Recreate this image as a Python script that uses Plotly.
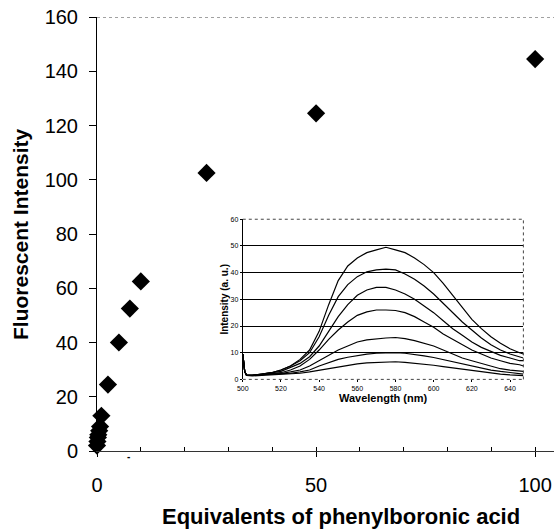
import plotly.graph_objects as go

# main titration data
equivalents = [0, 0.1, 0.2, 0.3, 0.5, 0.7, 1, 2.5, 5, 7.5, 10, 25, 50, 100]
intensity = [2, 3.5, 5, 6, 7.5, 9, 13, 24.5, 40, 52.5, 62.5, 102.5, 124.5, 144.5]

# inset spectra
wavelength = [500, 501, 502, 505, 510, 515, 520, 525, 530, 535, 540, 545, 550, 555, 560, 565,
              570, 575, 580, 585, 590, 595, 600, 605, 610, 615, 620, 625, 630, 635, 640, 645, 647]
spec_a = [9.5, 3, 1.5, 1.5, 2, 2.5, 3.5, 5, 7.5, 11, 18, 28, 37, 42.5, 45.5, 47.5,
          48.5, 49.5, 48.5, 47.5, 45.5, 43, 40, 36, 31.5, 27, 22.5, 19, 16, 13.5, 11.5, 10, 9.5]
spec_b = [9.5, 3, 1.5, 1.5, 2, 2.5, 3.5, 5, 7, 10, 16, 24, 31, 35.5, 38.5, 40.3,
          41, 41.3, 41, 39.5, 37.5, 35, 32, 28.5, 25, 21.5, 18.5, 15.5, 13, 11, 9.5, 8.5, 8]
spec_c = [9.5, 3, 1.5, 1.5, 2, 2.5, 3, 4.5, 6, 8.5, 12.5, 18, 23.5, 28, 31.5, 33.5,
          34.5, 34.5, 33.5, 32, 30, 27.5, 25, 22, 19, 16.5, 14, 12, 10.5, 9, 8, 7, 7]
spec_d = [9.5, 3, 1.5, 1.5, 1.8, 2.2, 2.5, 3.5, 5, 7.5, 11, 15, 18.5, 21.5, 24, 25.3,
          26, 26, 25.8, 25, 23.5, 21.5, 19.5, 17, 15, 13, 11, 9.5, 8, 7, 6, 5.5, 5]
spec_e = [9.5, 3, 1.5, 1.5, 1.8, 2, 2.2, 2.8, 3.5, 5, 7, 9, 11, 12.5, 14, 14.8,
          15.2, 15.5, 15.7, 15.3, 14.5, 13.5, 12.5, 11, 9.5, 8, 7, 6, 5, 4, 3.5, 3, 3]
spec_f = [9.5, 3, 1.5, 1.5, 1.8, 2, 2, 2.3, 2.8, 3.5, 5, 6.3, 7.5, 8.3, 9, 9.5,
          9.8, 10, 10, 9.8, 9.4, 8.8, 8.2, 7.4, 6.5, 5.7, 5, 4.2, 3.5, 3, 2.5, 2, 2]
spec_g = [9.5, 3, 1.5, 1.3, 1.5, 1.7, 1.8, 2, 2.3, 2.8, 3.4, 4, 4.7, 5.3, 5.8, 6.2,
          6.4, 6.5, 6.6, 6.4, 6.1, 5.7, 5.3, 4.8, 4.3, 3.8, 3.3, 2.8, 2.4, 2, 1.7, 1.5, 1.4]
spectra = [spec_a, spec_b, spec_c, spec_d, spec_e, spec_f, spec_g]

font = "Liberation Sans, Arial, sans-serif"

fig = go.Figure()

fig.add_trace(go.Scatter(x=equivalents, y=intensity, mode="markers",
                         marker=dict(symbol="diamond", size=14, color="black"),
                         cliponaxis=False, showlegend=False))

for s in spectra:
    fig.add_trace(go.Scatter(x=wavelength, y=s, mode="lines", xaxis="x2", yaxis="y2",
                             line=dict(color="black", width=1.2), showlegend=False))

fig.update_layout(
    width=554, height=530,
    margin=dict(l=97, r=0, t=17, b=79),
    paper_bgcolor="white", plot_bgcolor="white",
    font=dict(family=font, color="black"),
    xaxis=dict(range=[0, 104.3], tickvals=[0, 50, 100], ticks="outside", ticklen=5,
               tickcolor="black", showgrid=False, zeroline=False, automargin=False,
               showline=True, linecolor="#333", linewidth=1,
               tickfont=dict(size=20), ticklabelstandoff=11,
               minor=dict(dtick=10, ticks="inside", ticklen=4, tickcolor="black")),
    yaxis=dict(range=[0, 160], dtick=20, ticks="outside", ticklen=7, tickcolor="black",
               showgrid=False, zeroline=False, showline=True, linecolor="black",
               linewidth=1, tickfont=dict(size=20), ticklabelstandoff=7, automargin=False),
    xaxis2=dict(domain=[0.319, 0.933], anchor="y2", range=[500, 647],
                tickvals=[500, 520, 540, 560, 580, 600, 620, 640],
                ticks="outside", ticklen=2, tickcolor="black", automargin=False,
                tickfont=dict(size=7), showgrid=False, zeroline=False,
                showline=False,
                title=dict(text="<b>Wavelength (nm)</b>", font=dict(size=11), standoff=0)),
    yaxis2=dict(domain=[0.165, 0.534], anchor="x2", range=[0, 60], dtick=10,
                ticks="outside", ticklen=2, tickcolor="black", automargin=False,
                tickfont=dict(size=7), showgrid=True, gridcolor="black", gridwidth=1,
                zeroline=False, showline=True, linecolor="black", linewidth=1,
                title=dict(text="<b>Intensity (a. u.)</b>", font=dict(size=10), standoff=0)),
    shapes=[
        dict(type="line", xref="paper", yref="y", x0=0, x1=1, y0=160, y1=160,
             line=dict(color="#444", width=1, dash="dot")),
        dict(type="line", xref="x2 domain", yref="y2 domain", x0=0, x1=1, y0=1, y1=1,
             line=dict(color="#444", width=1, dash="dot")),
        dict(type="line", xref="x2 domain", yref="y2 domain", x0=1, x1=1, y0=0, y1=1,
             line=dict(color="#444", width=1, dash="dot")),
        dict(type="line", xref="x2 domain", yref="y2 domain", x0=0, x1=1, y0=0, y1=0,
             line=dict(color="#444", width=1, dash="dot")),
    ],
    annotations=[
        dict(text="<b>Fluorescent Intensity</b>", xref="paper", yref="paper",
             x=-0.1685, y=0.5, textangle=-90, showarrow=False,
             xanchor="center", yanchor="middle", font=dict(size=21)),
        dict(text="<b>Equivalents of phenylboronic acid</b>", xref="paper", yref="paper",
             x=0.535, y=-0.152, showarrow=False,
             xanchor="center", yanchor="middle", font=dict(size=22)),
        # small stray dash just under the x axis in the original scan
        dict(text="<b>-</b>", x=0.068, y=-0.013, xref="paper", yref="paper",
             showarrow=False, xanchor="center", yanchor="middle", font=dict(size=10)),
    ],
)

# the page's default body margin would push the figure 8px right/down
fig.write_html("out.html", config={"displayModeBar": False},
               post_script="document.body.style.margin='0';")
